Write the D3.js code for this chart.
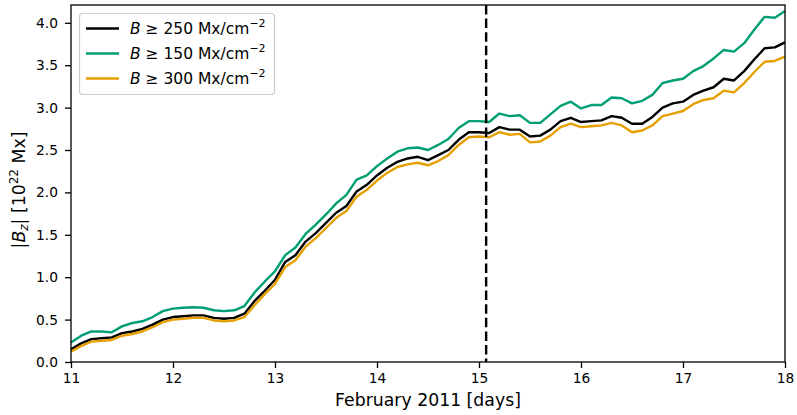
<!DOCTYPE html>
<html><head><meta charset="utf-8">
<script src="https://cdn.jsdelivr.net/npm/d3@7"></script>
<style>
body{margin:0;background:#fff;}
text{font-family:"DejaVu Sans",sans-serif;}
</style></head>
<body>
<svg id="chart" width="797" height="415"></svg>
<script>
const days = d3.range(71).map(i => +(11 + i * 0.1).toFixed(1));
const b250 = [0.15,0.22,0.27,0.28,0.29,0.34,0.36,0.39,0.44,0.50,
  0.53,0.54,0.55,0.55,0.52,0.51,0.52,0.57,0.72,0.84,
  0.97,1.18,1.26,1.42,1.52,1.64,1.76,1.84,2.01,2.09,
  2.20,2.29,2.36,2.40,2.42,2.38,2.44,2.50,2.62,2.71,
  2.71,2.70,2.77,2.74,2.74,2.66,2.67,2.74,2.84,2.88,
  2.83,2.84,2.85,2.90,2.88,2.81,2.81,2.89,3.00,3.05,
  3.07,3.15,3.20,3.24,3.34,3.32,3.43,3.57,3.70,3.71,3.77];
const b150 = [0.23,0.31,0.36,0.36,0.35,0.42,0.46,0.48,0.53,0.60,
  0.63,0.64,0.645,0.64,0.61,0.60,0.61,0.66,0.82,0.95,
  1.07,1.26,1.35,1.51,1.62,1.74,1.87,1.97,2.15,2.20,
  2.31,2.40,2.48,2.52,2.53,2.50,2.56,2.63,2.76,2.84,
  2.84,2.83,2.93,2.90,2.91,2.82,2.82,2.92,3.02,3.07,
  2.99,3.03,3.03,3.12,3.11,3.05,3.08,3.15,3.29,3.32,
  3.34,3.43,3.49,3.58,3.68,3.66,3.76,3.92,4.07,4.06,4.14];
const b300 = [0.12,0.19,0.24,0.25,0.26,0.31,0.33,0.36,0.41,0.47,
  0.50,0.51,0.52,0.52,0.49,0.48,0.49,0.53,0.67,0.80,
  0.92,1.12,1.20,1.36,1.46,1.58,1.70,1.78,1.95,2.03,
  2.14,2.23,2.30,2.33,2.35,2.32,2.37,2.44,2.56,2.65,
  2.66,2.65,2.71,2.68,2.69,2.59,2.60,2.67,2.77,2.81,
  2.77,2.78,2.79,2.82,2.79,2.71,2.73,2.79,2.90,2.93,
  2.96,3.04,3.09,3.11,3.20,3.18,3.29,3.42,3.54,3.55,3.60];
const xTicks = [11,12,13,14,15,16,17,18];
const yTicks = [0,0.5,1,1.5,2,2.5,3,3.5,4];
const markerDay = 15.07;
const seriesNames = ["250","150","300"];
const seriesColors = ["#000000","#009e73","#e69f00"];

const svg = d3.select("#chart");
const m = {left:71, right:12, top:5, bottom:53};
const W = 797, H = 415;
const x = d3.scaleLinear().domain([11,18]).range([m.left, W-m.right]);
const y = d3.scaleLinear().domain([0,4.21]).range([H-m.bottom, m.top]);

const series = [b250, b150, b300];
const line = d3.line().x((d,i)=>x(days[i])).y(d=>y(d));
const g = svg.append("g");
series.forEach((s,k)=>{
  g.append("path").datum(s).attr("d", line).attr("fill","none")
   .attr("stroke", seriesColors[k]).attr("stroke-width",2.4).attr("stroke-linejoin","round");
});
svg.append("line").attr("x1",x(markerDay)).attr("x2",x(markerDay))
  .attr("y1",y.range()[1]).attr("y2",y.range()[0])
  .attr("stroke","#000").attr("stroke-width",2.4).attr("stroke-dasharray","9.5,4.1");

// axes
const xa = svg.append("g").attr("transform",`translate(0,${H-m.bottom})`)
  .call(d3.axisBottom(x).tickValues(xTicks).tickFormat(d3.format("d")).tickSize(6).tickPadding(5));
const ya = svg.append("g").attr("transform",`translate(${m.left},0)`)
  .call(d3.axisLeft(y).tickValues(yTicks).tickFormat(d3.format(".1f")).tickSize(6).tickPadding(7));
[xa,ya].forEach(a=>{
  a.selectAll("text").attr("font-size",13.8).attr("fill","#000").style("font-family","DejaVu Sans");
  a.select(".domain").remove();
  a.selectAll("line").attr("stroke","#000").attr("stroke-width",1.3);
});
svg.append("rect").attr("x",m.left).attr("y",m.top).attr("width",W-m.left-m.right)
  .attr("height",H-m.top-m.bottom).attr("fill","none").attr("stroke","#000").attr("stroke-width",1.3);

// axis labels
svg.append("text").attr("x",(m.left+W-m.right)/2).attr("y",406).attr("text-anchor","middle")
  .attr("font-size",17.3).text("February 2011 [days]");
const yl = svg.append("text").attr("transform",`translate(25,190) rotate(-90)`)
  .attr("text-anchor","middle").attr("font-size",17.3);
yl.append("tspan").text("|");
yl.append("tspan").attr("font-style","italic").text("B");
yl.append("tspan").attr("font-style","italic").attr("font-size",12.1).attr("dy",3).text("z");
yl.append("tspan").attr("dy",-3).text("| [10");
yl.append("tspan").attr("font-size",12.1).attr("dy",-7).text("22");
yl.append("tspan").attr("dy",7).text(" Mx]");

// legend
const lg = svg.append("g");
lg.append("rect").attr("x",79.5).attr("y",13.5).attr("width",195).attr("height",81).attr("rx",3)
  .attr("fill","#fff").attr("fill-opacity",0.8).attr("stroke","#ccc").attr("stroke-width",1.2);
const rowY = [28.5, 53.5, 78.5];
seriesNames.forEach((n,k)=>{
  lg.append("line").attr("x1",86).attr("x2",119).attr("y1",rowY[k]).attr("y2",rowY[k])
    .attr("stroke",seriesColors[k]).attr("stroke-width",2.4);
  const t = lg.append("text").attr("x",130).attr("y",rowY[k]+5.5).attr("font-size",15.5);
  t.append("tspan").attr("font-style","italic").text("B");
  t.append("tspan").text(" ≥ " + n + " Mx/cm");
  t.append("tspan").attr("font-size",11).attr("dy",-7).text("−2");
});
</script>
</body></html>
